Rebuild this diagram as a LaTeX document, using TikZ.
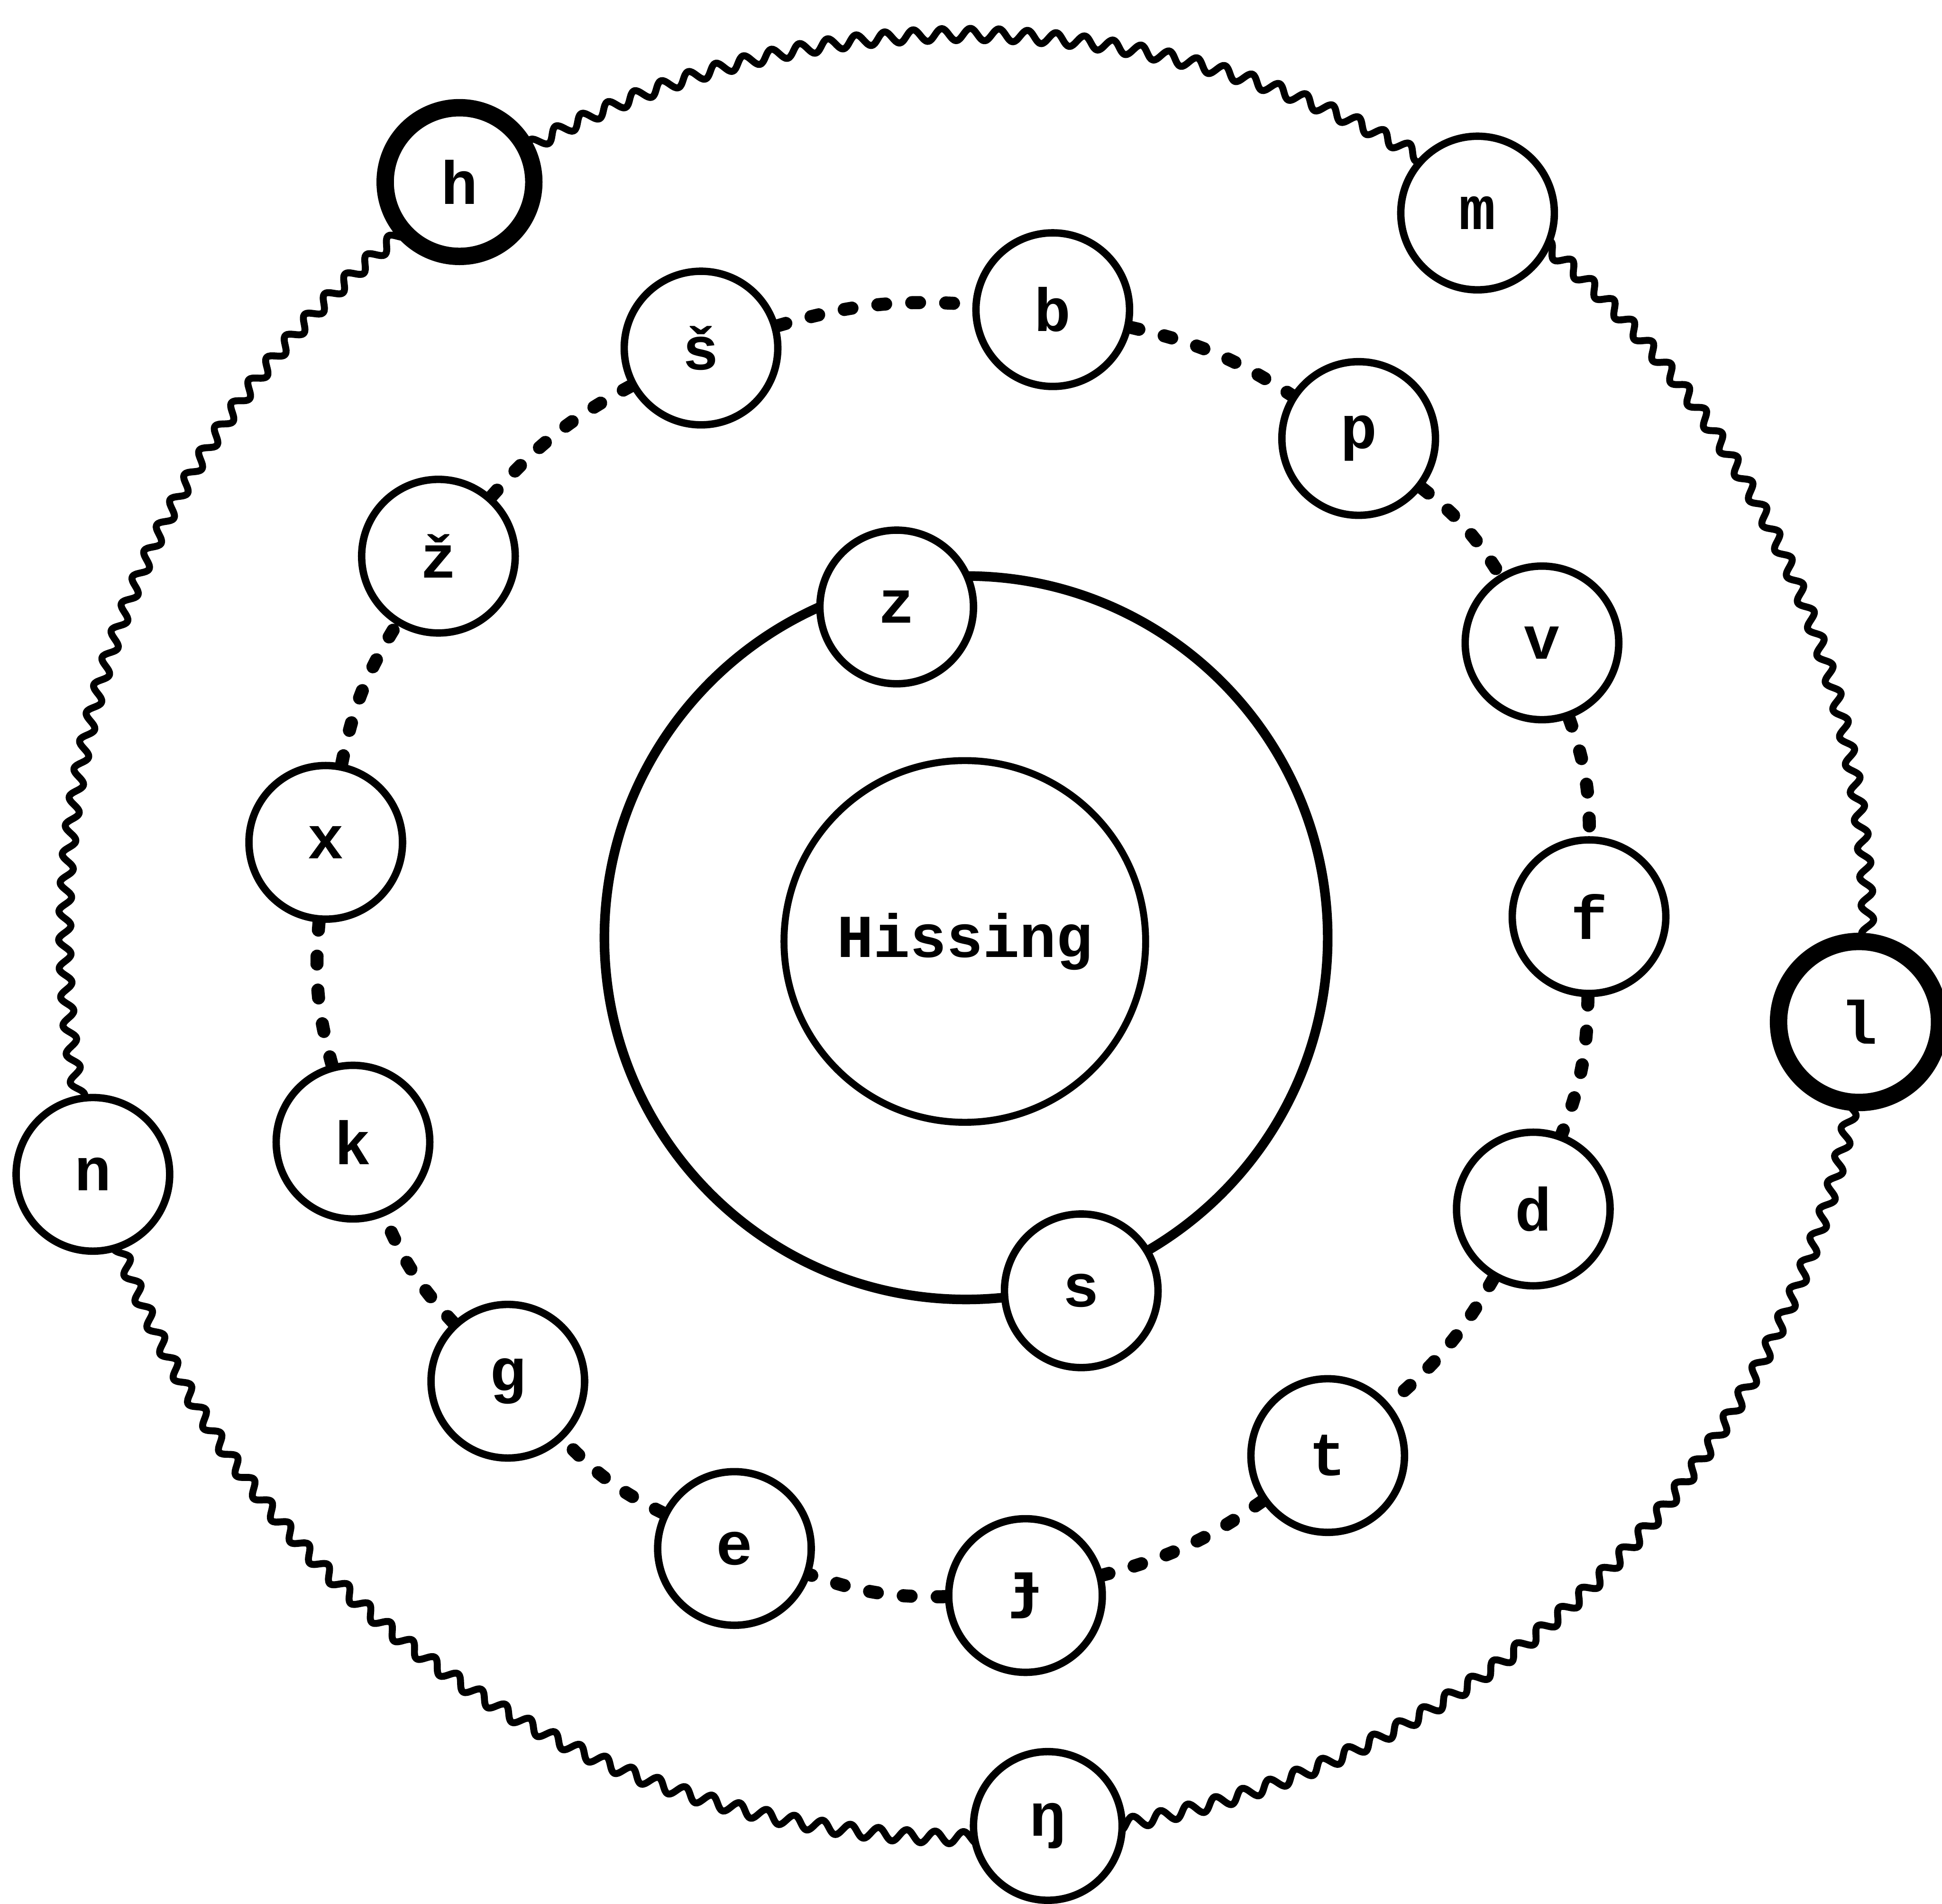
\documentclass[tikz,border=0pt]{standalone}
\usepackage{fontspec}
\newfontfamily\typefont{Liberation Mono}
\newfontfamily\ipafont{DejaVu Sans Mono}
\usetikzlibrary{decorations.pathmorphing}

\begin{document}
\begin{tikzpicture}[
  ph/.style={circle,draw,fill=white,line width=1.7pt,minimum size=1.24cm,inner sep=0pt,
    font=\typefont\bfseries\fontsize{14}{14}\selectfont},
  heavy/.style={ph,line width=4pt,minimum size=1.3cm},
  dotlink/.style={line width=3pt,line cap=round,dash pattern=on 1.8pt off 6pt,bend left=10},
  wavy/.style={line width=1.6pt,line join=round,decorate,decoration={snake,segment length=2.3mm,amplitude=0.5mm}},
]
  \useasboundingbox (0,0) rectangle (15.68,15.37);
  % outer rim, ring and core
  \draw[wavy] (7.80,7.76) circle (7.28);
  \node[circle,draw,line width=2.2pt,minimum size=5.84cm] (ring) at (7.80,7.80) {};
  \node[circle,draw,line width=1.6pt,minimum size=2.92cm,inner sep=0pt,
    font=\typefont\bfseries\fontsize{14}{14}\selectfont] (hiss) at (7.79,7.77) {Hissing};

  % outer sounds
  \node[heavy,minimum size=1.2cm] (h) at (3.71,13.90) {h};
  \node[ph] (m) at (11.93,13.65) {m};
  \node[heavy] (l) at (15.01,7.12) {l};
  \node[ph] (n) at (0.75,5.89) {n};
  \node[ph,minimum size=1.2cm] (ng) at (8.46,0.63) {ŋ};

  % ring sounds
  \node[ph] (z) at (7.24,10.47) {z};
  \node[ph] (s) at (8.73,4.95) {s};

  % dotted circle
  \node[ph] (sh) at (5.66,12.56) {š};
  \node[ph] (b) at (8.50,12.87) {b};
  \node[ph] (p) at (10.97,11.83) {p};
  \node[ph] (v) at (12.45,10.18) {v};
  \node[ph] (f) at (12.83,7.97) {f};
  \node[ph] (d) at (12.38,5.61) {d};
  \node[ph] (t) at (10.72,3.62) {t};
  \node[ph] (dj) at (8.28,2.49) {\ipafont\bfseries ɟ};
  \node[ph] (e) at (5.93,2.87) {e};
  \node[ph] (g) at (4.10,4.22) {g};
  \node[ph] (k) at (2.85,6.15) {k};
  \node[ph] (x) at (2.63,8.57) {x};
  \node[ph] (zh) at (3.54,10.88) {ž};

  \foreach \a/\b in {sh/b,b/p,p/v,v/f,f/d,d/t,t/dj,dj/e,e/g,g/k,k/x,x/zh,zh/sh}
    \draw[dotlink] (\a) to (\b);
\end{tikzpicture}
\end{document}
